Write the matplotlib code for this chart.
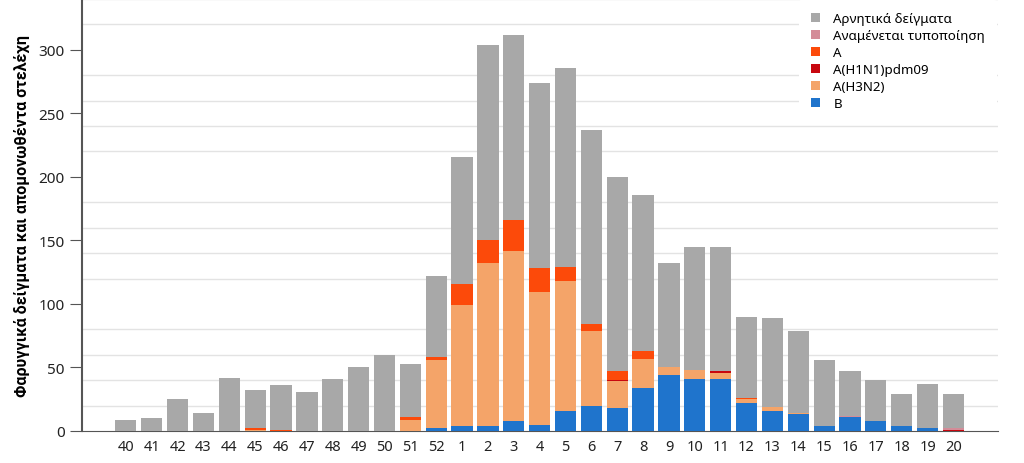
import numpy as np
import matplotlib.pyplot as plt
from matplotlib.ticker import MultipleLocator

weeks = ['40', '41', '42', '43', '44', '45', '46', '47', '48', '49', '50', '51', '52',
         '1', '2', '3', '4', '5', '6', '7', '8', '9', '10', '11', '12', '13', '14',
         '15', '16', '17', '18', '19', '20']

totals = [9, 10, 25, 14, 42, 32, 36, 31, 41, 50, 60, 53, 122,
          216, 304, 312, 274, 286, 237, 200, 186, 132, 145, 145, 90, 89, 79,
          56, 47, 40, 29, 37, 29]
b = [0, 0, 0, 0, 0, 0, 0, 0, 0, 0, 0, 0, 2,
     4, 4, 8, 5, 16, 20, 18, 34, 44, 41, 41, 22, 16, 13,
     4, 11, 8, 4, 2, 0]
h3n2 = [0, 0, 0, 0, 0, 1, 0, 0, 0, 0, 0, 9, 54,
        95, 128, 134, 104, 102, 59, 21, 23, 6, 7, 5, 3, 3, 1,
        0, 0, 0, 0, 0, 0]
h1n1 = [0, 0, 0, 0, 0, 0, 0, 0, 0, 0, 0, 0, 0,
        0, 0, 0, 0, 0, 0, 1, 0, 0, 0, 1, 0, 0, 0,
        0, 0, 0, 0, 0, 1]
a_unsub = [0, 0, 0, 0, 0, 1, 1, 0, 0, 0, 0, 2, 2,
           17, 18, 24, 19, 11, 5, 7, 6, 0, 0, 0, 1, 0, 0,
           0, 0, 0, 0, 0, 0]
pending = [0, 0, 0, 0, 0, 0, 0, 0, 0, 0, 0, 0, 0,
           0, 0, 0, 0, 0, 0, 0, 0, 0, 0, 0, 0, 0, 0,
           0, 1, 0, 0, 0, 1]

negative = [t - (w + x + y + z + p) for t, w, x, y, z, p in
            zip(totals, b, h3n2, h1n1, a_unsub, pending)]

series = [
    ('B', b, '#1f74cc'),
    ('A(H3N2)', h3n2, '#f4a469'),
    ('A(H1N1)pdm09', h1n1, '#c8070f'),
    ('A', a_unsub, '#fc4a0a'),
    ('Αναμένεται τυποποίηση', pending, '#d48c98'),
    ('Αρνητικά δείγματα', negative, '#a8a8a8'),
]

plt.rcParams['font.family'] = ['Noto Sans', 'DejaVu Sans']

fig = plt.figure(figsize=(10.24, 4.64), dpi=100)
ax = fig.add_axes([0.080, 0.069, 0.895, 0.931])

x = np.arange(len(weeks))
bottom = np.zeros(len(weeks))
handles = []
for name, vals, col in series:
    bars = ax.bar(x, vals, 0.82, bottom=bottom, color=col, label=name, zorder=3)
    bottom += np.array(vals)
    handles.append(bars)

ax.set_xlim(-1.7, 33.74)
ax.set_ylim(0, 340)
ax.yaxis.set_major_locator(MultipleLocator(50))
ax.yaxis.set_minor_locator(MultipleLocator(20))
ax.grid(which='minor', axis='y', color='#e3e3e3', lw=1, zorder=0)
ax.tick_params(axis='y', which='minor', length=0)
ax.tick_params(axis='y', which='major', length=9, color='#555555', labelsize=11, labelcolor='#222222')
ax.set_xticks(x)
ax.set_xticklabels(weeks)
ax.tick_params(axis='x', length=0, labelsize=10.5, labelcolor='#222222', pad=6)

for s in ['top', 'right']:
    ax.spines[s].set_visible(False)
ax.spines['left'].set_color('#555555')
ax.spines['bottom'].set_color('#555555')
ax.spines['left'].set_linewidth(1.5)

ax.set_ylabel('Φαρυγγικά δείγματα και απομονωθέντα στελέχη', fontsize=11.5,
              fontweight='bold', family=['Roboto', 'DejaVu Sans'], labelpad=6)

leg = ax.legend(handles[::-1], [s[0] for s in series][::-1], loc='upper right',
                bbox_to_anchor=(1.0, 1.0), frameon=True, fontsize=9.6, handlelength=0.7,
                handleheight=0.7, labelspacing=0.3, handletextpad=1.0, borderaxespad=0.1,
                borderpad=0.9)
leg.get_frame().set_edgecolor('none')
leg.get_frame().set_facecolor('white')
leg.get_frame().set_alpha(1)
leg.set_zorder(5)

fig.savefig('out.png', dpi=100)
